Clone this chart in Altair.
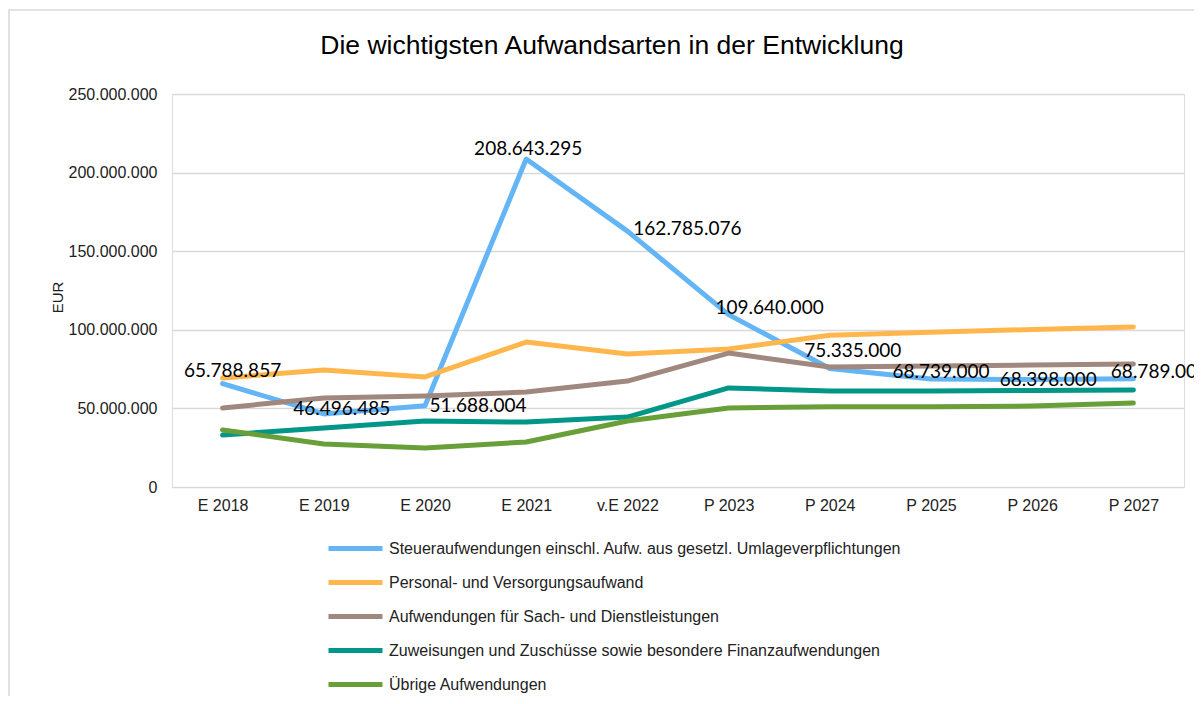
import altair as alt
import pandas as pd

categories = ["E 2018", "E 2019", "E 2020", "E 2021", "v.E 2022",
              "P 2023", "P 2024", "P 2025", "P 2026", "P 2027"]

series_names = [
    "Steueraufwendungen einschl. Aufw. aus gesetzl. Umlageverpflichtungen",
    "Personal- und Versorgungsaufwand",
    "Aufwendungen für Sach- und Dienstleistungen",
    "Zuweisungen und Zuschüsse sowie besondere Finanzaufwendungen",
    "Übrige Aufwendungen",
]

steuer = [65788857, 46496485, 51688004, 208643295, 162785076,
          109640000, 75335000, 68739000, 68398000, 68789000]
personal = [69300000, 74400000, 70000000, 92200000, 84600000,
            87800000, 96500000, 98500000, 100200000, 101800000]
sach = [50300000, 56600000, 57900000, 60400000, 67400000,
        85200000, 76300000, 77000000, 77600000, 78200000]
zuweisungen = [33100000, 37500000, 42000000, 41300000, 44500000,
               63000000, 61000000, 61000000, 61400000, 61700000]
uebrige = [36300000, 27400000, 24800000, 28600000, 42000000,
           50300000, 51000000, 51000000, 51500000, 53400000]

colors = ["#64B5F6", "#FFB74D", "#A1887F", "#009688", "#689F38"]

title_text = "Die wichtigsten Aufwandsarten in der Entwicklung"

# label offsets (dx, dy) for the value labels of the first series
label_offsets = [(10, -13), (18, -5), (53, 0), (2, -10), (60, -2),
                 (41, -7), (23, -18), (10, -7), (16, 1), (26, -7)]

all_values = [steuer, personal, sach, zuweisungen, uebrige]
rows = []
for name, vals in zip(series_names, all_values):
    for c, v in zip(categories, vals):
        rows.append({"Kategorie": c, "Serie": name, "Wert": v})
df = pd.DataFrame(rows)

FONT = "Liberation Sans"

x_enc = alt.X("Kategorie:N", sort=categories,
              scale=alt.Scale(type="point", padding=0.5),
              axis=alt.Axis(title=None, labelAngle=0, ticks=False, domain=False,
                            grid=False, labelPadding=10, labelFont=FONT,
                            labelFontSize=16, labelColor="#222"))
y_enc = alt.Y("Wert:Q",
              scale=alt.Scale(domain=[0, 250000000], nice=False),
              axis=alt.Axis(title="EUR", values=[0, 50000000, 100000000, 150000000,
                                                  200000000, 250000000],
                            format=",d", ticks=False, domain=False, grid=True,
                            gridColor="#d9d9d9", gridWidth=1.5,
                            labelPadding=15, labelFont=FONT, labelFontSize=16,
                            labelColor="#222", titleFont=FONT, titleFontSize=15,
                            titleFontWeight="normal", titleColor="#222",
                            titleX=-115, titleY=203, titleAngle=-90,
                            titleAlign="center", titleBaseline="middle"))

color_enc = alt.Color("Serie:N",
                      scale=alt.Scale(domain=series_names, range=colors),
                      legend=alt.Legend(orient="none", legendX=172, legendY=443,
                                        direction="vertical", title=None,
                                        symbolType="M-3,0H3", symbolSize=324,
                                        symbolStrokeWidth=5, labelOffset=22,
                                        rowPadding=12, labelFontSize=16,
                                        labelFont=FONT, labelColor="#222",
                                        padding=0, labelLimit=0))

one = pd.DataFrame({"a": [0]})

border = alt.Chart(one).mark_rect(
    filled=False, stroke="#d9d9d9", strokeWidth=1.5
).encode(x=alt.value(-163), x2=alt.value(1150),
         y=alt.value(-84), y2=alt.value(800))

title_mark = alt.Chart(pd.DataFrame({"t": [title_text]})).mark_text(
    font=FONT, fontSize=26.5, color="#000", align="center", baseline="middle"
).encode(x=alt.value(440), y=alt.value(-48), text="t:N")

line_layers = []
for name in series_names:
    line_layers.append(
        alt.Chart(df).transform_filter(alt.datum.Serie == name)
        .mark_line(strokeWidth=5, strokeCap="round", strokeJoin="round")
        .encode(x=x_enc, y=y_enc, color=color_enc)
    )

label_df = pd.DataFrame({"Kategorie": categories, "Wert": steuer})
label_layers = []
for i, (dx, dy) in enumerate(label_offsets):
    label_layers.append(
        alt.Chart(label_df.iloc[[i]]).mark_text(
            dx=dx, dy=dy, align="center", baseline="middle",
            font="Lato", fontSize=19, color="#000"
        ).encode(x=alt.X("Kategorie:N", sort=categories,
                         scale=alt.Scale(type="point", padding=0.5)),
                 y=alt.Y("Wert:Q"),
                 text=alt.Text("Wert:Q", format=",d"))
    )

chart = alt.layer(border, title_mark, *line_layers, *label_layers).properties(
    width=1012, height=393,
    autosize=alt.AutoSizeParams(type="none"),
    padding={"left": 164, "top": 86, "right": 10, "bottom": 209},
).configure_view(stroke=None).configure(
    locale=alt.Locale(number=alt.NumberLocale(decimal=",", thousands=".",
                                              grouping=[3], currency=["", " €"]))
)

chart.save("out.html", embed_options={"renderer": "svg", "actions": False})
